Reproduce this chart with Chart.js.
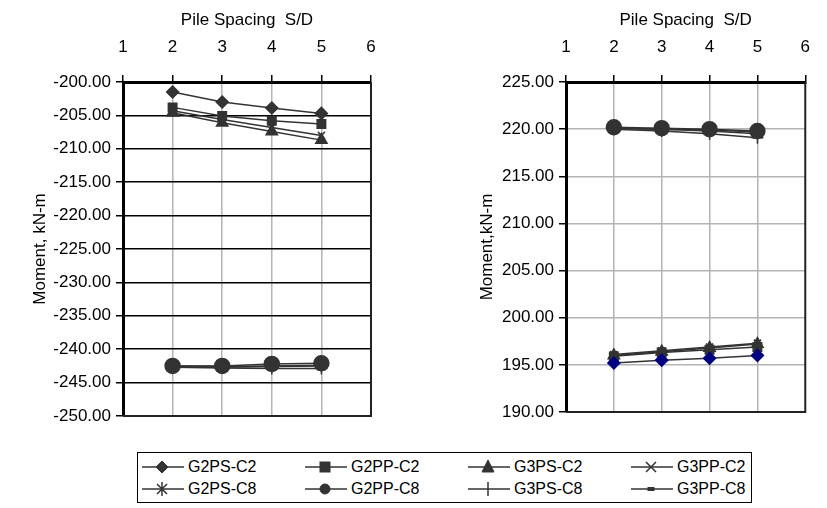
<!DOCTYPE html>
<html>
<head>
<meta charset="utf-8">
<script src="https://cdn.jsdelivr.net/npm/chart.js@4"></script>
<style>
  body { margin: 0; background: #fff; width: 827px; height: 508px; position: relative; overflow: hidden; font-family: "Liberation Sans", Arial, sans-serif; }
  canvas { position: absolute; top: 0; }
  #left { left: 0; }
  #right { left: 440px; }
  #legend { position: absolute; left: 137px; top: 452px; width: 613px; height: 49px; border: 1px solid #000; font-size: 16px; color: #000; }
  .item { position: absolute; height: 22px; display: flex; align-items: center; }
  .item svg { margin-right: 4px; }
</style>
</head>
<body>
<canvas id="left" width="440" height="440"></canvas>
<canvas id="right" width="387" height="440"></canvas>
<div id="legend"></div>
<script>
// pile spacing S/D
const spacing = [2, 3, 4, 5];
const seriesNames = ['G2PS-C2', 'G2PP-C2', 'G3PS-C2', 'G3PP-C2', 'G2PS-C8', 'G2PP-C8', 'G3PS-C8', 'G3PP-C8'];
const markers = ['rectRot', 'rect', 'triangle', 'crossRot', 'star', 'circle', 'cross', 'line'];

// left chart (negative moment)
const leftG2PS_C2 = [-201.5, -203.0, -203.9, -204.7];
const leftG2PP_C2 = [-203.8, -205.1, -205.8, -206.3];
const leftG3PS_C2 = [-204.6, -206.1, -207.4, -208.7];
const leftG3PP_C2 = [-204.3, -205.6, -206.8, -208.0];
const leftG2PS_C8 = [-242.6, -242.7, -242.6, -242.5];
const leftG2PP_C8 = [-242.5, -242.5, -242.2, -242.1];
const leftG3PS_C8 = [-242.7, -242.8, -242.9, -242.9];
const leftG3PP_C8 = [-242.5, -242.6, -242.5, -242.4];

// right chart (positive moment)
const rightG2PS_C2 = [195.2, 195.5, 195.7, 196.0];
const rightG2PP_C2 = [195.9, 196.3, 196.6, 196.9];
const rightG3PS_C2 = [196.0, 196.4, 196.8, 197.2];
const rightG3PP_C2 = [196.1, 196.5, 196.9, 197.3];
const rightG2PS_C8 = [220.1, 220.0, 219.8, 219.5];
const rightG2PP_C8 = [220.2, 220.1, 220.0, 219.8];
const rightG3PS_C8 = [220.0, 219.8, 219.5, 219.1];
const rightG3PP_C8 = [220.1, 220.0, 219.9, 219.7];

const leftValues = [leftG2PS_C2, leftG2PP_C2, leftG3PS_C2, leftG3PP_C2, leftG2PS_C8, leftG2PP_C8, leftG3PS_C8, leftG3PP_C8];
const rightValues = [rightG2PS_C2, rightG2PP_C2, rightG3PS_C2, rightG3PP_C2, rightG2PS_C8, rightG2PP_C8, rightG3PS_C8, rightG3PP_C8];

const ink = '#333333';
const font = { family: '"Liberation Sans", Arial, sans-serif', size: 17 };
const radius = { rectRot: 6, rect: 6, triangle: 6.5, crossRot: 5, star: 6, circle: 7.5, cross: 6, line: 4 };

function makeDatasets(values, fills) {
  return values.map((vals, i) => ({
    label: seriesNames[i],
    data: vals.map((v, j) => ({ x: spacing[j], y: v })),
    borderColor: ink,
    borderWidth: 1.5,
    pointStyle: markers[i],
    pointRadius: radius[markers[i]],
    pointBackgroundColor: fills[i] || ink,
    pointBorderColor: fills[i] || ink,
    pointBorderWidth: 1.5,
    tension: 0
  }));
}

// outline right and bottom of the plot area
const frame = {
  id: 'frame',
  afterDraw(chart) {
    const a = chart.chartArea, c = chart.ctx;
    c.save();
    c.strokeStyle = '#222';
    c.lineWidth = 2;
    c.beginPath();
    c.moveTo(a.right, a.top);
    c.lineTo(a.right, a.bottom);
    c.lineTo(a.left, a.bottom);
    c.stroke();
    c.restore();
  }
};

function makeChart(id, values, fills, yMin, yMax, yTitle, hGrid, pad, yWidth, titlePad) {
  return new Chart(document.getElementById(id), {
    type: 'line',
    data: { datasets: makeDatasets(values, fills) },
    plugins: [frame],
    options: {
      responsive: false,
      animation: false,
      layout: { padding: pad },
      plugins: { legend: { display: false }, tooltip: { enabled: false } },
      scales: {
        x: {
          type: 'linear',
          position: 'top',
          min: 1, max: 6,
          ticks: { stepSize: 1, color: '#000', font: font, padding: 17 },
          grid: {
            color: (ctx) => (ctx.tick && (ctx.tick.value === 1 || ctx.tick.value === 6)) ? 'rgba(0,0,0,0)' : '#b4b4b4',
            lineWidth: 1.5,
            tickColor: '#000',
            tickLength: 7
          },
          border: { color: '#000', width: 3 },
          title: { display: true, text: 'Pile Spacing  S/D', color: '#000', font: font, padding: { top: 10, bottom: 0 } },
          afterFit: (scale) => { scale.height = 82; }
        },
        y: {
          min: yMin, max: yMax,
          ticks: { stepSize: 5, color: '#000', font: font, padding: 5, callback: (v) => v.toFixed(2) },
          grid: { color: hGrid, lineWidth: 1.5, tickColor: '#000', tickLength: 7 },
          border: { color: '#000', width: 3 },
          title: { display: true, text: yTitle, color: '#000', font: font, padding: { top: titlePad, bottom: 0 } },
          afterFit: (scale) => { scale.width = yWidth; }
        }
      }
    }
  });
}

makeChart('left', leftValues, [], -250, -200, 'Moment, kN-m', '#000',
  { left: 20, right: 69, top: 0, bottom: 24 }, 103, 10);
makeChart('right', rightValues, ['#000080'], 190, 225, 'Moment,kN-m', '#b4b4b4',
  { left: 20, right: 11, top: 0, bottom: 28 }, 106, 17);

// legend
function markerSvg(style) {
  let m = '';
  const s = 'fill="#333" stroke="#333"';
  if (style === 'rectRot') m = `<polygon points="20,4 26,10 20,16 14,10" ${s}/>`;
  if (style === 'rect') m = `<rect x="15" y="5" width="10" height="10" ${s}/>`;
  if (style === 'triangle') m = `<polygon points="20,3 26,15 14,15" ${s}/>`;
  if (style === 'crossRot') m = `<path d="M15,5 L25,15 M25,5 L15,15" stroke="#333" stroke-width="1.5"/>`;
  if (style === 'star') m = `<path d="M15,5 L25,15 M25,5 L15,15 M20,3 L20,17" stroke="#333" stroke-width="1.5"/>`;
  if (style === 'circle') m = `<circle cx="20" cy="10" r="5" ${s}/>`;
  if (style === 'cross') m = `<path d="M20,3 L20,17" stroke="#333" stroke-width="1.5"/>`;
  if (style === 'line') m = `<rect x="17" y="8.5" width="6" height="3" ${s}/>`;
  return `<svg width="42" height="20"><line x1="0" y1="10" x2="42" y2="10" stroke="#333" stroke-width="1.5"/>${m}</svg>`;
}
const legendEl = document.getElementById('legend');
seriesNames.forEach((name, i) => {
  const d = document.createElement('div');
  d.className = 'item';
  d.style.left = (4 + (i % 4) * 163) + 'px';
  d.style.top = (i < 4 ? 3 : 25) + 'px';
  d.innerHTML = markerSvg(markers[i]) + '<span>' + name + '</span>';
  legendEl.appendChild(d);
});
</script>
</body>
</html>
